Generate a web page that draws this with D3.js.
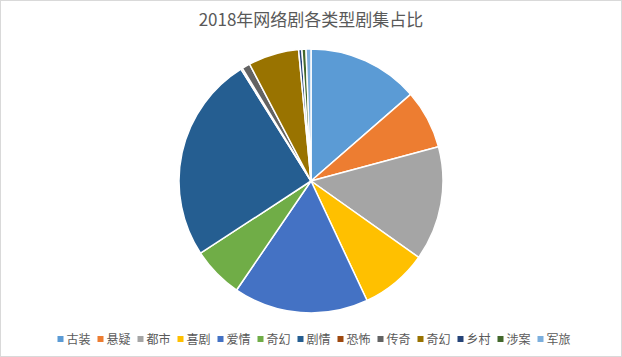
<!DOCTYPE html>
<html><head><meta charset="utf-8">
<script src="https://cdn.jsdelivr.net/npm/d3@7"></script>
<style>body{margin:0;background:#fff}svg{display:block}</style>
</head><body>
<svg id="c" width="622" height="357"></svg>
<script>
const categories = ["古装","悬疑","都市","喜剧","爱情","奇幻","剧情","恐怖","传奇","奇幻","乡村","涉案","军旅"];
const values = [13.6, 7.2, 14.0, 8.2, 16.5, 6.25, 25.3, 0.2, 1.0, 6.2, 0.4, 0.5, 0.6];
const colors = ["#5B9BD5","#ED7D31","#A5A5A5","#FFC000","#4472C4","#70AD47","#255E91","#9E480E","#636363","#997300","#264478","#43682B","#7CAFDD"];
const title = "2018年网络剧各类型剧集占比";

const svg = d3.select("#c");
const W = 622, H = 357;
svg.append("rect").attr("x",0.5).attr("y",0.5).attr("width",W-1).attr("height",H-1)
  .attr("fill","#fff").attr("stroke","#d9d9d9").attr("stroke-width",1);

svg.append("text").attr("x",311).attr("y",26).attr("text-anchor","middle")
  .attr("font-family","'Noto Sans CJK SC', sans-serif").attr("font-size",17)
  .attr("fill","#595959").text(title);

const data = categories.map((c,i)=>({name:c, value:values[i], color:colors[i]}));
const pie = d3.pie().value(d=>d.value).sort(null);
const arc = d3.arc().innerRadius(0).outerRadius(132);
const g = svg.append("g").attr("transform","translate(311,181)");
g.selectAll("path").data(pie(data)).join("path")
  .attr("d",arc).attr("fill",d=>d.data.color)
  .attr("stroke","#fff").attr("stroke-width",1.5).attr("stroke-linejoin","round");

const color = d3.scaleOrdinal().domain(d3.range(categories.length)).range(colors);
const lx = d3.scaleLinear().domain([0,1]).range([57.5,97.5]);
const leg = svg.append("g");
const items = leg.selectAll("g").data(categories).join("g")
  .attr("transform",(d,i)=>`translate(${lx(i)},339)`);
items.append("rect").attr("x",0).attr("y",-3).attr("width",6).attr("height",6)
  .attr("fill",(d,i)=>color(i));
items.append("text").attr("x",9).attr("y",4.5)
  .attr("font-family","'Noto Sans CJK SC', sans-serif").attr("font-size",12)
  .attr("fill","#595959").text(d=>d);
</script>
</body></html>
